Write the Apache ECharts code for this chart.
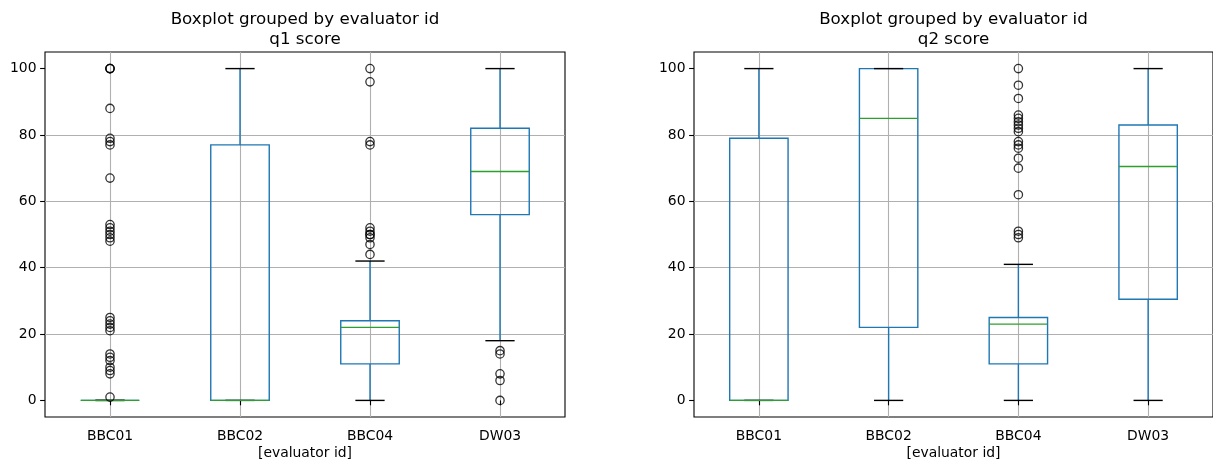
<!DOCTYPE html>
<html>
<head>
<meta charset="utf-8">
<title>Boxplot grouped by evaluator id</title>
<script src="https://cdn.jsdelivr.net/npm/echarts@6/dist/echarts.min.js"></script>
<style>
  html, body { margin: 0; padding: 0; background: #fff; }
  #chart { width: 1213px; height: 459px; }
</style>
</head>
<body>
<div id="chart"></div>
<script>
// Evaluator groups on the x axis
const categories = ['BBC01', 'BBC02', 'BBC04', 'DW03'];

// Box statistics per evaluator: [lower whisker, Q1, median, Q3, upper whisker]
const q1Stats = [
  [0, 0, 0, 0, 0],
  [0, 0, 0, 77, 100],
  [0, 11, 22, 24, 42],
  [18, 56, 69, 82, 100]
];
const q2Stats = [
  [0, 0, 0, 79, 100],
  [0, 22, 85, 100, 100],
  [0, 11, 23, 25, 41],
  [0, 30.5, 70.5, 83, 100]
];

// Outlier points per evaluator
const q1Fliers = [
  [100, 100, 100, 88, 79, 78, 77, 67, 53, 52, 51, 50, 49, 48, 25, 24, 23, 22, 21, 14, 13, 12, 10, 9, 8, 1],
  [],
  [100, 96, 78, 77, 52, 51, 50, 50, 49, 47, 44],
  [15, 14, 8, 6, 0]
];
const q2Fliers = [
  [],
  [],
  [100, 95, 91, 86, 85, 84, 83, 82, 81, 78, 77, 76, 73, 70, 62, 51, 50, 49],
  []
];

// Y tick labels
const yTicks = [0, 20, 40, 60, 80, 100];

const panelTitles = ['Boxplot grouped by evaluator id\nq1 score', 'Boxplot grouped by evaluator id\nq2 score'];
const xAxisName = '[evaluator id]';

const FONT = 'DejaVu Sans';
const C_BOX = '#1f77b4';
const C_MED = '#2ca02c';
const C_CAP = '#000000';
const C_GRID = '#b0b0b0';

const grids = [
  { left: 45, top: 52, width: 520, height: 365 },
  { left: 694, top: 52, width: 519, height: 365 }
];

function boxRows(stats) {
  return stats.map((s, i) => [i].concat(s));
}
function flierRows(fliers) {
  const rows = [];
  fliers.forEach((vals, i) => vals.forEach(v => rows.push([i, v])));
  return rows;
}

// Draws one matplotlib-style box: box, whiskers, caps, median
function renderBox(params, api) {
  const x = api.value(0);
  const pLow = api.coord([x, api.value(1)]);
  const pQ1 = api.coord([x, api.value(2)]);
  const pMed = api.coord([x, api.value(3)]);
  const pQ3 = api.coord([x, api.value(4)]);
  const pHigh = api.coord([x, api.value(5)]);
  const band = api.size([1, 0])[0];
  const bw = band * 0.45;
  const cw = bw / 2;
  const cx = pLow[0];
  const lw = 1.4;
  const line = (x1, y1, x2, y2, color) => ({
    type: 'line',
    shape: { x1, y1, x2, y2 },
    style: { stroke: color, lineWidth: lw, fill: null }
  });
  return {
    type: 'group',
    children: [
      {
        type: 'rect',
        shape: { x: cx - bw / 2, y: pQ3[1], width: bw, height: pQ1[1] - pQ3[1] },
        style: { fill: null, stroke: C_BOX, lineWidth: lw }
      },
      line(cx, pLow[1], cx, pQ1[1], C_BOX),
      line(cx, pQ3[1], cx, pHigh[1], C_BOX),
      line(cx - cw / 2, pLow[1], cx + cw / 2, pLow[1], C_CAP),
      line(cx - cw / 2, pHigh[1], cx + cw / 2, pHigh[1], C_CAP),
      line(cx - bw / 2, pMed[1], cx + bw / 2, pMed[1], C_MED)
    ]
  };
}

const xAxes = grids.map((g, i) => ({
  type: 'category',
  gridIndex: i,
  data: categories,
  boundaryGap: true,
  name: xAxisName,
  nameLocation: 'middle',
  nameGap: 29,
  nameMoveOverlap: false,
  nameTextStyle: { fontFamily: FONT, fontSize: 13.9, color: '#000' },
  axisLine: { show: false },
  axisTick: { show: true, alignWithLabel: true, length: 4.9, lineStyle: { color: '#000', width: 1.1 } },
  axisLabel: { fontFamily: FONT, fontSize: 13.9, color: '#000', margin: 12 },
  splitLine: { show: true, alignWithLabel: true, lineStyle: { color: C_GRID, width: 1.1 } }
}));

const yAxes = grids.map((g, i) => ({
  type: 'value',
  gridIndex: i,
  min: -5,
  max: 105,
  axisLine: { show: false },
  axisTick: { show: true, length: 4.9, customValues: yTicks, lineStyle: { color: '#000', width: 1.1 } },
  axisLabel: { fontFamily: FONT, fontSize: 13.9, color: '#000', margin: 8.5, customValues: yTicks },
  splitLine: { show: true, showMinLine: false, showMaxLine: false, lineStyle: { color: C_GRID, width: 1.1 } }
}));

const allStats = [q1Stats, q2Stats];
const allFliers = [q1Fliers, q2Fliers];

const series = [];
allStats.forEach((stats, i) => {
  series.push({
    type: 'custom',
    xAxisIndex: i,
    yAxisIndex: i,
    renderItem: renderBox,
    encode: { x: 0, y: [1, 2, 3, 4, 5] },
    data: boxRows(stats),
    z: 3,
    silent: true
  });
  series.push({
    type: 'scatter',
    xAxisIndex: i,
    yAxisIndex: i,
    symbol: 'circle',
    symbolSize: 8.3,
    itemStyle: { color: 'rgba(0,0,0,0)', borderColor: '#000', borderWidth: 1.3 },
    data: flierRows(allFliers[i]),
    z: 4,
    silent: true
  });
});

const titleText = grids.map((g, i) => ({
  type: 'text',
  x: g.left + g.width / 2,
  y: 10,
  style: {
    text: panelTitles[i],
    fontFamily: FONT,
    fontSize: 16.7,
    lineHeight: 20,
    fill: '#000',
    align: 'center',
    verticalAlign: 'top'
  }
}));

const chart = echarts.init(document.getElementById('chart'), null, { renderer: 'canvas' });
chart.setOption({
  animation: false,
  backgroundColor: '#fff',
  grid: grids.map(g => Object.assign({
    show: true,
    borderColor: '#000',
    borderWidth: 1.1,
    backgroundColor: 'transparent',
    containLabel: false,
    outerBoundsMode: 'none'
  }, g)),
  xAxis: xAxes,
  yAxis: yAxes,
  series: series,
  graphic: titleText
});
</script>
</body>
</html>
